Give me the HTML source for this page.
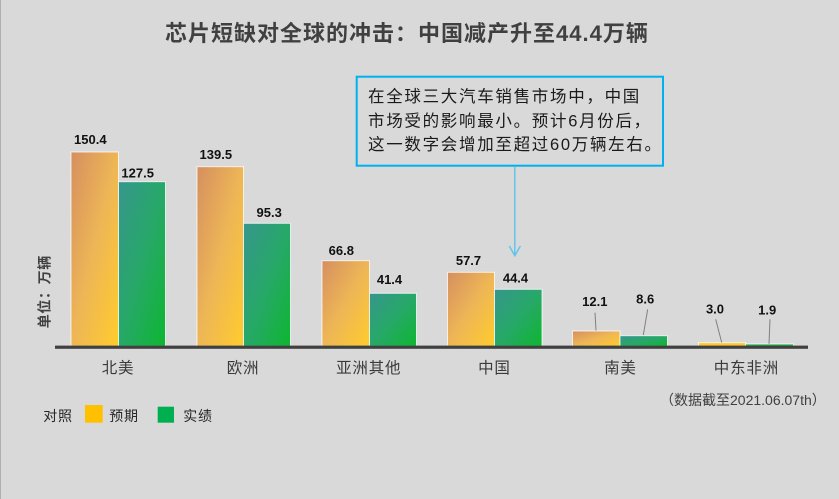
<!DOCTYPE html>
<html>
<head>
<meta charset="utf-8">
<style>
  html, body { margin:0; padding:0; background:#d9d9d9; }
  body { width:839px; height:499px; overflow:hidden; }
  svg { display:block; }
  .cjk { font-family: "Liberation Sans", "Noto Sans CJK SC", sans-serif; }
  .num { font-family: "Liberation Sans", sans-serif; font-weight:bold; font-size:13px; fill:#111; }
</style>
</head>
<body>
<svg width="839" height="499" viewBox="0 0 839 499" xmlns="http://www.w3.org/2000/svg">
  <defs>
    <linearGradient id="og" x1="0" y1="0" x2="1" y2="1">
      <stop offset="0" stop-color="#d58f60"/>
      <stop offset="0.5" stop-color="#eeb656"/>
      <stop offset="1" stop-color="#ffcc2c"/>
    </linearGradient>
    <linearGradient id="gg" x1="0" y1="0" x2="1" y2="1">
      <stop offset="0" stop-color="#37968d"/>
      <stop offset="0.5" stop-color="#27a868"/>
      <stop offset="1" stop-color="#0db62f"/>
    </linearGradient>
  </defs>
  <rect x="0" y="0" width="839" height="499" fill="#d9d9d9"/>
  <rect x="0" y="0" width="1" height="499" fill="#b0b0b0"/>

  <!-- Title -->
  <text class="cjk" x="165" y="41" font-size="22" font-weight="bold" fill="#404040" style="letter-spacing:1px">芯片短缺对全球的冲击：中国减产升至44.4万辆</text>

  <!-- Annotation box -->
  <rect x="356.7" y="76.7" width="306.3" height="89" fill="none" stroke="#00b0f0" stroke-width="2"/>
  <g class="cjk" font-size="16.5" fill="#1a1a1a" style="letter-spacing:1.7px">
    <text x="368" y="102">在全球三大汽车销售市场中，中国</text>
    <text x="368" y="126.5">市场受的影响最小。预计6月份后，</text>
    <text x="368" y="150">这一数字会增加至超过60万辆左右。</text>
  </g>
  <line x1="514.8" y1="167" x2="514.8" y2="255.5" stroke="#63c5ea" stroke-width="1.5"/>
  <polyline points="509.3,246 514.8,255.7 520.4,246" fill="none" stroke="#63c5ea" stroke-width="1.5"/>

  <!-- Bars -->
  <g stroke="rgba(255,255,255,0.75)" stroke-width="1">
    <rect x="71" y="152" width="47.5" height="194.3" fill="url(#og)"/>
    <rect x="118.5" y="181.7" width="47" height="164.6" fill="url(#gg)"/>
    <rect x="197" y="166.7" width="46.5" height="179.6" fill="url(#og)"/>
    <rect x="243.5" y="223.3" width="47" height="123" fill="url(#gg)"/>
    <rect x="322" y="260.7" width="47.5" height="85.6" fill="url(#og)"/>
    <rect x="369.5" y="293.3" width="47" height="53" fill="url(#gg)"/>
    <rect x="447.5" y="272.3" width="47" height="74" fill="url(#og)"/>
    <rect x="494.5" y="289.3" width="47.5" height="57" fill="url(#gg)"/>
    <rect x="572.5" y="331" width="47.5" height="15.3" fill="url(#og)"/>
    <rect x="620" y="335.7" width="47.5" height="10.6" fill="url(#gg)"/>
    <rect x="698.5" y="342.7" width="47" height="3.6" fill="#ffc72c"/>
    <rect x="745.5" y="344" width="48" height="2.3" fill="#1fae4a"/>
  </g>

  <!-- Axis line -->
  <rect x="55" y="345.6" width="753" height="3.2" fill="#404040"/>

  <!-- Leader lines -->
  <g stroke="#808080" stroke-width="1">
    <line x1="595" y1="312.7" x2="596" y2="330.5"/>
    <line x1="647.7" y1="309.3" x2="643.3" y2="335"/>
    <line x1="715.7" y1="319.3" x2="721.7" y2="342.5"/>
    <line x1="770" y1="319.3" x2="769" y2="343.8"/>
  </g>

  <!-- Data labels -->
  <g class="num" text-anchor="middle">
    <text x="90.3" y="144">150.4</text>
    <text x="137.7" y="177.3">127.5</text>
    <text x="215.8" y="159">139.5</text>
    <text x="269.2" y="217">95.3</text>
    <text x="341.3" y="255">66.8</text>
    <text x="389.5" y="284">41.4</text>
    <text x="468.5" y="265">57.7</text>
    <text x="515.5" y="282.3">44.4</text>
    <text x="594.8" y="306">12.1</text>
    <text x="645.2" y="303.3">8.6</text>
    <text x="715" y="313.3">3.0</text>
    <text x="767.2" y="314.3">1.9</text>
  </g>

  <!-- Category labels -->
  <g class="cjk" font-size="15.5" fill="#3a3a3a" text-anchor="middle" style="letter-spacing:0.8px">
    <text x="118" y="373">北美</text>
    <text x="243" y="373">欧洲</text>
    <text x="368.7" y="373">亚洲其他</text>
    <text x="494.4" y="373">中国</text>
    <text x="620.4" y="373">南美</text>
    <text x="746.4" y="373">中东非洲</text>
  </g>

  <!-- Y axis label -->
  <text class="cjk" transform="translate(44.3,291.7) rotate(-90)" text-anchor="middle" dominant-baseline="central" font-size="14" font-weight="bold" fill="#404040" style="letter-spacing:0.6px">单位：万辆</text>

  <!-- Data note -->
  <text class="cjk" x="660" y="405" font-size="14" fill="#404040">（数据截至2021.06.07th）</text>

  <!-- Legend -->
  <g class="cjk" font-size="14" fill="#262626" style="letter-spacing:0.7px">
    <text x="43.3" y="421">对照</text>
    <text x="109.3" y="421">预期</text>
    <text x="183.3" y="421">实绩</text>
  </g>
  <rect x="85" y="405" width="17.7" height="17.7" fill="#ffc000"/>
  <rect x="157.7" y="406.7" width="16.3" height="16" fill="#00b050"/>
</svg>
</body>
</html>
